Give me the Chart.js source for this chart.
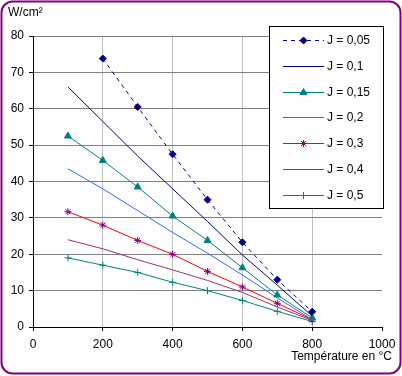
<!DOCTYPE html>
<html>
<head>
<meta charset="utf-8">
<script src="https://cdn.jsdelivr.net/npm/chart.js@4.4.1/dist/chart.umd.min.js"></script>
<style>
  html, body { margin: 0; padding: 0; background: #fff; }
  #wrap { width: 402px; height: 376px; position: relative; }
</style>
</head>
<body>
<div id="wrap"><canvas id="chart" width="402" height="376"></canvas></div>
<script>
const FONT = "'Liberation Sans', Arial, sans-serif";

const temps = [100, 200, 300, 400, 500, 600, 700, 800];
const labels = ['J = 0,05', 'J = 0,1', 'J = 0,15', 'J = 0,2', 'J = 0,3', 'J = 0,4', 'J = 0,5'];

const j005 = [null, 73.8, 60.5, 47.5, 35, 23.3, 13, 4.2];
const j01 = [66, 56.5, 47, 38, 29, 19.8, 11.5, 3];
const j015 = [52.5, 45.8, 38.5, 30.5, 23.8, 16.3, 8.8, 2.5];
const j02 = [43.5, 38, 32, 26, 20.3, 14.3, 8, 2];
const j03 = [31.7, 28, 23.8, 20, 15.3, 11, 6.5, 2];
const j04 = [24, 21.5, 18.5, 15.7, 12.8, 9.5, 5.5, 1.8];
const j05 = [19, 17, 15, 12.3, 10, 7.3, 4.3, 1.5];

const xTicks = [0, 200, 400, 600, 800, 1000];

function points(values){
  return temps.map((t, i) => ({x: t, y: values[i]})).filter(p => p.y != null);
}

function series(label, values, color, style){
  return Object.assign({
    label: label,
    data: points(values),
    borderColor: color,
    backgroundColor: color,
    pointBorderColor: color,
    pointBackgroundColor: color,
    borderWidth: 1,
    pointRadius: 0,
    pointBorderWidth: 1,
    tension: 0
  }, style);
}

const datasets = [
  series(labels[0], j005, '#000080', {borderDash: [4, 4], pointStyle: 'rectRot', pointRadius: 3.5}),
  series(labels[1], j01, '#000080', {}),
  series(labels[2], j015, '#008080', {pointStyle: 'triangle', pointRadius: 4}),
  series(labels[3], j02, '#3366FF', {}),
  series(labels[4], j03, '#FF0000', {pointStyle: 'star', pointRadius: 3.5, pointBorderColor: '#800080', pointBackgroundColor: '#800080'}),
  series(labels[5], j04, '#993366', {}),
  series(labels[6], j05, '#008080', {pointStyle: 'cross', pointRadius: 3.5})
];

// legend box, axis titles and frame drawn by hand
const decorations = {
  id: 'decorations',
  afterDraw(chart){
    const ctx = chart.ctx;
    ctx.save();
    // frame
    ctx.strokeStyle = '#800080';
    ctx.lineWidth = 2;
    ctx.beginPath();
    ctx.roundRect(1.5, 1.5, 399, 372, 11);
    ctx.stroke();

    ctx.fillStyle = '#000';
    ctx.font = '12px ' + FONT;
    ctx.textBaseline = 'middle';
    ctx.textAlign = 'left';
    ctx.fillText('W/cm²', 8, 13);
    ctx.textAlign = 'right';
    ctx.fillText('Température en °C', 392, 357);

    // legend
    ctx.fillStyle = '#fff';
    ctx.fillRect(269.5, 26.5, 114, 182);
    ctx.strokeStyle = '#000';
    ctx.lineWidth = 1;
    ctx.strokeRect(269.5, 26.5, 114, 182);
    chart.data.datasets.forEach((ds, i) => {
      const y = Math.round(40 + i * 25.8) + 0.5;
      ctx.strokeStyle = ds.borderColor;
      ctx.lineWidth = 1;
      ctx.setLineDash(ds.borderDash || []);
      ctx.beginPath();
      ctx.moveTo(283, y);
      ctx.lineTo(324, y);
      ctx.stroke();
      ctx.setLineDash([]);
      if (ds.pointRadius > 0){
        ctx.fillStyle = ds.pointBackgroundColor;
        ctx.strokeStyle = ds.pointBorderColor;
        Chart.helpers.drawPoint(ctx, {pointStyle: ds.pointStyle, radius: ds.pointRadius, borderWidth: 1, rotation: 0}, 303.5, y);
      }
      ctx.fillStyle = '#000';
      ctx.textAlign = 'left';
      ctx.fillText(ds.label, 327, y);
    });
    ctx.restore();
  }
};

new Chart(document.getElementById('chart'), {
  type: 'line',
  data: {datasets: datasets},
  plugins: [decorations],
  options: {
    responsive: false,
    animation: false,
    layout: {padding: {left: 0, right: 20, top: 36, bottom: 0}},
    plugins: {legend: {display: false}, tooltip: {enabled: false}},
    scales: {
      x: {
        type: 'linear',
        min: 0,
        max: 1000,
        afterBuildTicks: scale => { scale.ticks = xTicks.map(v => ({value: v})); },
        afterFit: scale => { scale.height = 49; },
        grid: {
          color: c => (c.tick && (c.tick.value == 0 || c.tick.value == 1000)) ? 'rgba(0,0,0,0)' : '#C0C0C0',
          tickColor: '#000',
          tickLength: 4,
          lineWidth: 1
        },
        border: {color: '#000', width: 1},
        ticks: {color: '#000', font: {family: FONT, size: 12}, padding: 6, maxRotation: 0, callback: v => String(v)}
      },
      y: {
        min: 0,
        max: 80,
        ticks: {stepSize: 10, color: '#000', font: {family: FONT, size: 12}, padding: 5},
        afterFit: scale => { scale.width = 33; },
        grid: {
          color: c => (c.tick && c.tick.value == 0) ? 'rgba(0,0,0,0)' : '#808080',
          tickColor: '#000',
          tickLength: 4,
          lineWidth: 1
        },
        border: {color: '#000', width: 1}
      }
    }
  }
});
</script>
</body>
</html>
